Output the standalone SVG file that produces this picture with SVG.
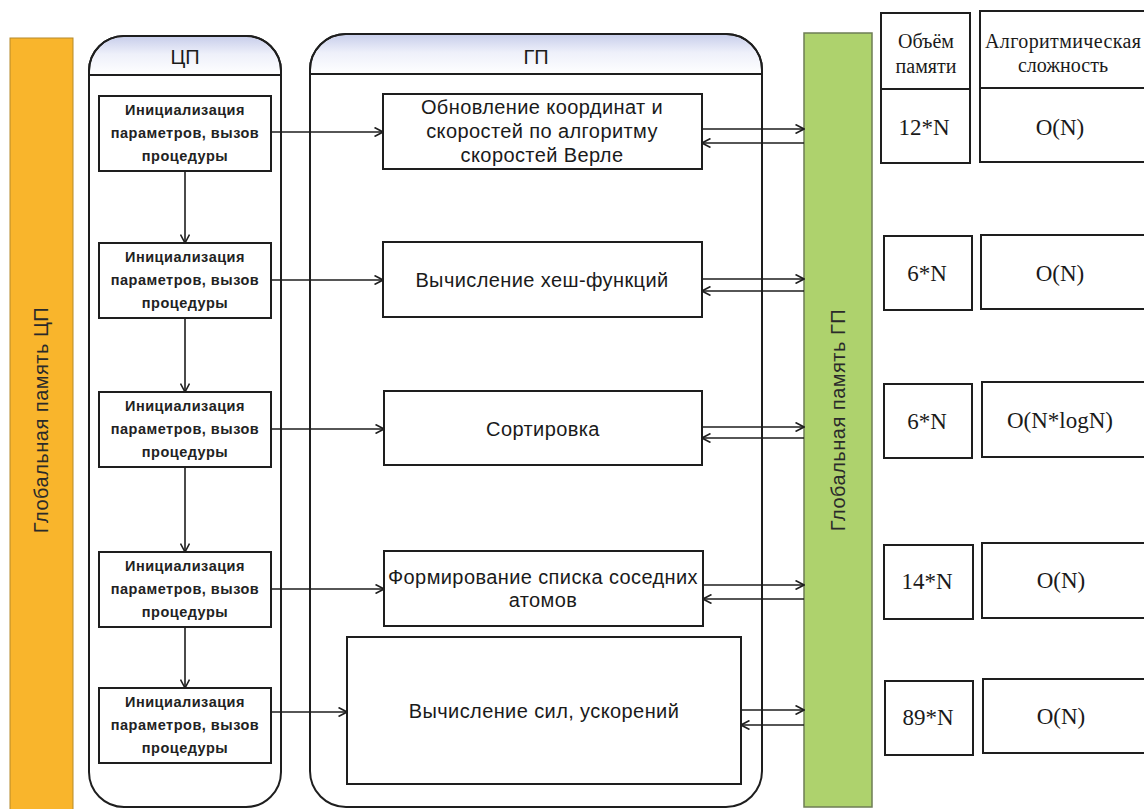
<svg xmlns="http://www.w3.org/2000/svg" width="1144" height="809" viewBox="0 0 1144 809">
<defs>
<linearGradient id="hdr" x1="0" y1="0" x2="0" y2="1">
<stop offset="0" stop-color="#c9cfeb"/>
<stop offset="0.45" stop-color="#eef0fa"/>
<stop offset="1" stop-color="#ffffff"/>
</linearGradient>
<marker id="ah" viewBox="0 0 10 10" refX="9.5" refY="5" markerWidth="10" markerHeight="10" markerUnits="userSpaceOnUse" orient="auto">
<path d="M1,0.5 L9.5,5 L1,9.5" fill="none" stroke="#1e1e1e" stroke-width="1.6"/>
</marker>
<style>
.box{fill:#fff;stroke:#1e1e1e;stroke-width:2}
.lane{fill:#fff;stroke:#1e1e1e;stroke-width:2}
.cpu{font-family:"Liberation Sans",Arial,sans-serif;font-size:14.5px;font-weight:bold;fill:#222;text-anchor:middle;letter-spacing:0.5px}
.gpu{font-family:"Liberation Sans",Arial,sans-serif;font-size:20px;fill:#1a1a1a;text-anchor:middle;letter-spacing:0.4px}
.ttl{font-family:"Liberation Sans",Arial,sans-serif;font-size:20px;fill:#1a1a1a;text-anchor:middle}
.mem{font-family:"Liberation Sans",Arial,sans-serif;font-size:20px;fill:#2a2a2a;text-anchor:middle;letter-spacing:0.5px}
.tb{font-family:"Liberation Serif","Times New Roman",serif;font-size:23px;fill:#1a1a1a;text-anchor:middle}
.th{font-family:"Liberation Serif","Times New Roman",serif;font-size:20px;fill:#1a1a1a;text-anchor:middle}
.ln{fill:none;stroke:#1e1e1e;stroke-width:1.6;marker-end:url(#ah)}
</style>
</defs>

<g id="cpu-memory">
<rect x="10" y="38" width="63" height="775" fill="#f9b52c" stroke="#b58a2a" stroke-width="1"/>
<text class="mem" transform="translate(48,420) rotate(-90)">Глобальная память ЦП</text>
</g>

<g id="gpu-memory">
<rect x="804" y="33" width="68" height="774" fill="#aed26d" stroke="#6e7d55" stroke-width="1.5"/>
<text class="mem" transform="translate(845,420) rotate(-90)">Глобальная память ГП</text>
</g>

<g id="lane-cpu">
<path class="lane" d="M89,71 A35,35 0 0 1 124,36 L246,36 A35,35 0 0 1 281,71 L281,772 A35,35 0 0 1 246,807 L124,807 A35,35 0 0 1 89,772 Z"/>
<path d="M90,75 L90,71 A34,34 0 0 1 124,37 L246,37 A34,34 0 0 1 280,71 L280,75 Z" fill="url(#hdr)"/>
<path d="M89,71 A35,35 0 0 1 124,36 L246,36 A35,35 0 0 1 281,71" fill="none" stroke="#1e1e1e" stroke-width="2"/>
<line x1="89" y1="75" x2="281" y2="75" stroke="#1e1e1e" stroke-width="2"/>
<text class="ttl" x="185" y="64">ЦП</text>
</g>

<g id="lane-gpu">
<path class="lane" d="M310,70 A36,36 0 0 1 346,34 L726,34 A36,36 0 0 1 762,70 L762,771 A36,36 0 0 1 726,807 L346,807 A36,36 0 0 1 310,771 Z"/>
<path d="M311,74 L311,70 A35,35 0 0 1 346,35 L726,35 A35,35 0 0 1 761,70 L761,74 Z" fill="url(#hdr)"/>
<path d="M310,70 A36,36 0 0 1 346,34 L726,34 A36,36 0 0 1 762,70" fill="none" stroke="#1e1e1e" stroke-width="2"/>
<line x1="310" y1="74" x2="762" y2="74" stroke="#1e1e1e" stroke-width="2"/>
<text class="ttl" x="536" y="64">ГП</text>
</g>

<g id="cpu1"><rect class="box" x="99" y="96" width="172" height="75"/>
<text class="cpu" x="185" y="115">Инициализация</text><text class="cpu" x="185" y="138">параметров, вызов</text><text class="cpu" x="185" y="161">процедуры</text></g>
<g id="cpu2"><rect class="box" x="99" y="243" width="172" height="75"/>
<text class="cpu" x="185" y="262">Инициализация</text><text class="cpu" x="185" y="285">параметров, вызов</text><text class="cpu" x="185" y="308">процедуры</text></g>
<g id="cpu3"><rect class="box" x="99" y="392" width="172" height="75"/>
<text class="cpu" x="185" y="411">Инициализация</text><text class="cpu" x="185" y="434">параметров, вызов</text><text class="cpu" x="185" y="457">процедуры</text></g>
<g id="cpu4"><rect class="box" x="99" y="552" width="172" height="75"/>
<text class="cpu" x="185" y="571">Инициализация</text><text class="cpu" x="185" y="594">параметров, вызов</text><text class="cpu" x="185" y="617">процедуры</text></g>
<g id="cpu5"><rect class="box" x="99" y="688" width="172" height="75"/>
<text class="cpu" x="185" y="707">Инициализация</text><text class="cpu" x="185" y="730">параметров, вызов</text><text class="cpu" x="185" y="753">процедуры</text></g>

<g id="gpu1"><rect class="box" x="383" y="94" width="319" height="75"/>
<text class="gpu" x="542" y="114">Обновление координат и</text><text class="gpu" x="542" y="138">скоростей по алгоритму</text><text class="gpu" x="542" y="162">скоростей Верле</text></g>
<g id="gpu2"><rect class="box" x="383" y="242" width="319" height="75"/>
<text class="gpu" x="542" y="287">Вычисление хеш-функций</text></g>
<g id="gpu3"><rect class="box" x="384" y="391" width="318" height="74"/>
<text class="gpu" x="543" y="436">Сортировка</text></g>
<g id="gpu4"><rect class="box" x="384" y="551" width="319" height="75"/>
<text class="gpu" x="543" y="584">Формирование списка соседних</text><text class="gpu" x="543" y="607">атомов</text></g>
<g id="gpu5"><rect class="box" x="347" y="637" width="394" height="147"/>
<text class="gpu" x="544" y="718">Вычисление сил, ускорений</text></g>

<g id="table-header">
<rect class="box" x="881" y="13" width="89" height="150"/>
<line x1="881" y1="89" x2="970" y2="89" stroke="#1e1e1e" stroke-width="2"/>
<text class="th" x="926" y="48">Объём</text><text class="th" x="926" y="73">памяти</text>
<rect class="box" x="980" y="11" width="180" height="151"/>
<line x1="980" y1="88" x2="1160" y2="88" stroke="#1e1e1e" stroke-width="2"/>
<text class="th" x="1063" y="48" textLength="156">Алгоритмическая</text><text class="th" x="1063" y="72">сложность</text>
<text class="tb" x="924" y="135">12*N</text><text class="tb" x="1060" y="135">O(N)</text>
</g>
<g id="row2"><rect class="box" x="884" y="236" width="88" height="74"/><rect class="box" x="981" y="235" width="180" height="74"/>
<text class="tb" x="927" y="281">6*N</text><text class="tb" x="1060" y="281">O(N)</text></g>
<g id="row3"><rect class="box" x="884" y="384" width="88" height="74"/><rect class="box" x="982" y="382" width="180" height="75"/>
<text class="tb" x="927" y="429">6*N</text><text class="tb" x="1060" y="428">O(N*logN)</text></g>
<g id="row4"><rect class="box" x="884" y="545" width="89" height="74"/><rect class="box" x="982" y="543" width="180" height="75"/>
<text class="tb" x="927" y="589">14*N</text><text class="tb" x="1061" y="588">O(N)</text></g>
<g id="row5"><rect class="box" x="885" y="681" width="88" height="74"/><rect class="box" x="983" y="679" width="180" height="74"/>
<text class="tb" x="928" y="725">89*N</text><text class="tb" x="1061" y="724">O(N)</text></g>

<g id="connectors">
<line class="ln" x1="185" y1="171" x2="185" y2="243"/>
<line class="ln" x1="185" y1="318" x2="185" y2="392"/>
<line class="ln" x1="185" y1="467" x2="185" y2="552"/>
<line class="ln" x1="185" y1="627" x2="185" y2="688"/>
<line class="ln" x1="271" y1="132" x2="383" y2="132"/>
<line class="ln" x1="271" y1="280" x2="383" y2="280"/>
<line class="ln" x1="271" y1="429" x2="384" y2="429"/>
<line class="ln" x1="271" y1="589" x2="384" y2="589"/>
<line class="ln" x1="271" y1="712" x2="347" y2="712"/>
<line class="ln" x1="702" y1="129" x2="804" y2="129"/>
<line class="ln" x1="804" y1="143" x2="702" y2="143"/>
<line class="ln" x1="702" y1="279" x2="804" y2="279"/>
<line class="ln" x1="804" y1="291" x2="702" y2="291"/>
<line class="ln" x1="702" y1="427" x2="804" y2="427"/>
<line class="ln" x1="804" y1="438" x2="702" y2="438"/>
<line class="ln" x1="703" y1="585" x2="804" y2="585"/>
<line class="ln" x1="804" y1="599" x2="703" y2="599"/>
<line class="ln" x1="741" y1="710" x2="804" y2="710"/>
<line class="ln" x1="804" y1="725" x2="741" y2="725"/>
</g>
</svg>
